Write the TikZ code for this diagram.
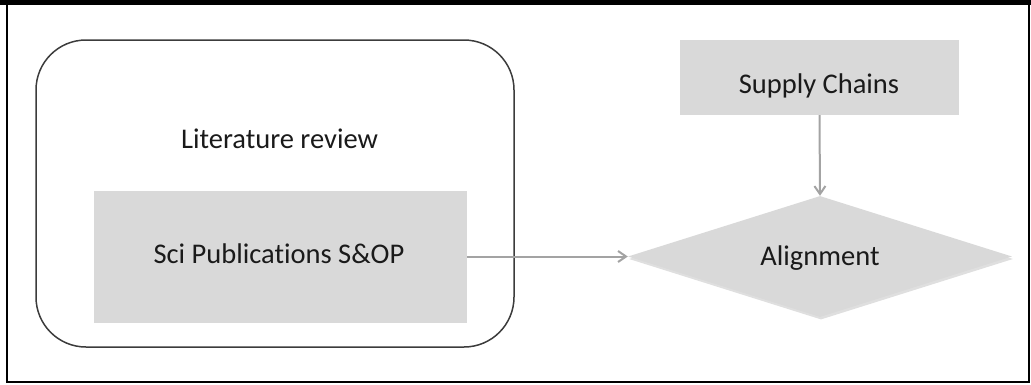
\documentclass[tikz,border=0pt]{standalone}
\usepackage{fontspec}
\setmainfont{Carlito}[Ligatures={NoCommon}]
\usetikzlibrary{shapes.geometric,arrows.meta,shadows}
\definecolor{boxgray}{HTML}{D9D9D9}
\definecolor{arrowgray}{HTML}{A3A3A3}
\definecolor{framegray}{HTML}{3C3C3C}
\definecolor{txt}{HTML}{1A1A1A}
\tikzset{
  lbl/.style={font=\fontsize{28.5}{34}\selectfont, text=txt},
  graybox/.style={rectangle, fill=boxgray, draw=none, inner sep=0pt},
  conn/.style={draw=arrowgray, line width=2pt, -{Straight Barb[length=8pt,width=11pt,line width=2pt]}}
}
\begin{document}
\begin{tikzpicture}[x=1pt,y=-1pt]
\useasboundingbox (0,0) rectangle (1031,384);
% frame
\fill[black] (0,0) rectangle (1031,5);
\draw[black, line width=1.4pt] (7,5) -- (7,382) -- (1029,382) -- (1029,5);
% literature review container
\node[rectangle, rounded corners=50pt, draw=framegray, line width=1.5pt,
      minimum width=478pt, minimum height=307pt, inner sep=0pt] (lit) at (275,193.5) {};
\node[lbl, anchor=base] (littxt) at (279.5,148) {Literature review};
% boxes
\node[graybox, minimum width=373pt, minimum height=132pt] (sci) at (280.5,256.5) {};
\node[lbl, anchor=base] (scitxt) at (279,263) {Sci Publications S\&OP};
\node[graybox, minimum width=279pt, minimum height=75pt] (sc) at (819.5,77.5) {};
\node[lbl, anchor=base] (sctxt) at (819,93) {Supply Chains};
% diamond
\node[diamond, aspect=3.17, fill=boxgray, draw=none, inner sep=0pt,
      minimum width=384pt, minimum height=121pt,
      drop shadow={opacity=0.25, shadow xshift=1pt, shadow yshift=-2.5pt}] (align) at (820,256.5) {};
\node[lbl, anchor=base] (aligntxt) at (820,265) {Alignment};
% connectors
\draw[conn] (sci.east) -- (align.west);
\draw[conn] (sc.south) -- (align.north);
\end{tikzpicture}
\end{document}
